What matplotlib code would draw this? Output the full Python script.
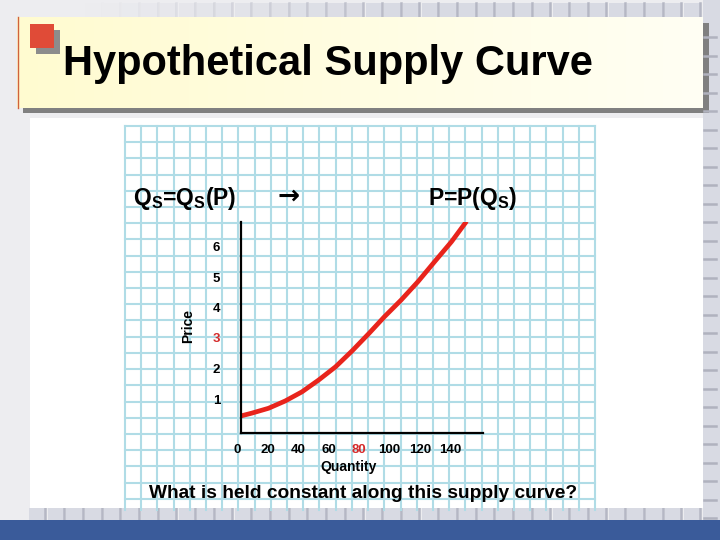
import matplotlib
matplotlib.use("Agg")
import matplotlib.pyplot as plt
from matplotlib.patches import Rectangle
from matplotlib.transforms import ScaledTranslation
import numpy as np

plt.rcParams['font.family'] = ['Liberation Sans', 'DejaVu Sans']
plt.rcParams['mathtext.default'] = 'regular'

# supply curve
quantity = [0, 7, 18, 29, 40, 51, 62, 73, 84, 94, 105, 116, 127, 138, 147]
price = [0.56, 0.65, 0.81, 1.05, 1.35, 1.74, 2.17, 2.70, 3.27, 3.81,
         4.36, 4.96, 5.62, 6.27, 6.88]

x_ticks = [0, 20, 40, 60, 80, 100, 120, 140]
y_ticks = [1, 2, 3, 4, 5, 6]
highlight_x = 80
highlight_y = 3

title = "Hypothetical Supply Curve"
question = "What is held constant along this supply curve?"

fig = plt.figure(figsize=(7.2, 5.4), dpi=100)
fig.patch.set_facecolor('#EDEDF0')

# slide background drawn in pixel coordinates
bg = fig.add_axes([0, 0, 1, 1])
bg.set_xlim(0, 720)
bg.set_ylim(540, 0)
bg.axis('off')

# checkered strip along the top, fading out to the left
xs = np.arange(700, 80, -18.7)
for x in xs:
    a = min(1.0, max(0.0, (x - 90) / 320))
    bg.add_patch(Rectangle((x - 16.5, 3), 16.5, 14, color='#D8DAE3', alpha=a, lw=0))
    bg.plot([x, x], [3, 17], color='#B5B7C4', lw=1.8, alpha=a)
# strip on the right
bg.add_patch(Rectangle((703, 0), 17, 520, color='#D8DAE3', lw=0))
for y in np.arange(37, 520, 18.5):
    bg.plot([704, 716], [y, y], color='#B0B2BE', lw=1.8)
# strip under the panel
for x in np.arange(700, 30, -18.7):
    bg.add_patch(Rectangle((x - 16.5, 508), 16.5, 12, color='#D8DAE3', lw=0))
    bg.plot([x, x], [508, 520], color='#B5B7C4', lw=1.8)

# title box
bg.add_patch(Rectangle((23, 23), 686, 90, color='#808080', lw=0))
grad = np.linspace(0, 1, 256).reshape(1, -1)
cmap = matplotlib.colors.LinearSegmentedColormap.from_list('t', ['#FFFBD0', '#FFFFF4'])
bg.imshow(grad, extent=[17, 703, 108, 17], cmap=cmap, aspect='auto', zorder=2)
bg.plot([17.5, 17.5], [17, 108], color='#D06040', lw=1, zorder=3)
bg.add_patch(Rectangle((36, 30), 24, 24, color='#8C8C8C', lw=0, zorder=3))
bg.add_patch(Rectangle((30, 24), 24, 24, color='#E04B37', lw=0, zorder=4))
bg.text(63, 75, title, fontsize=30, fontweight='bold', ha='left', va='baseline', zorder=5)
bg.set_xlim(0, 720)
bg.set_ylim(540, 0)

# white panel with graph paper
bg.add_patch(Rectangle((30, 118), 673, 390, color='white', lw=0, zorder=2))
step = 470 / 29
for k in range(30):
    x = 125 + k * step
    bg.plot([x, x], [126, 510], color='#B0DCE6', lw=1.5, zorder=3)
for k in range(24):
    y = 126 + k * step
    if y <= 510:
        bg.plot([125, 595], [y, y], color='#B0DCE6', lw=1.5, zorder=3)

# blue bar at the bottom
bg.add_patch(Rectangle((0, 520), 720, 20, color='#3A5B9A', lw=0, zorder=2))

# headings on the panel
bg.text(133, 205, r'Q$_S$=Q$_S$(P)', fontsize=16.5, fontweight='bold',
        ha='left', va='baseline', zorder=5)
bg.text(289, 197, '\u2192', fontsize=19, fontweight='bold',
        family='DejaVu Sans', ha='center', va='center', zorder=5)
bg.text(428, 205, r'P=P(Q$_S$)', fontsize=16.5, fontweight='bold',
        ha='left', va='baseline', zorder=5)
bg.text(188, 326, 'Price', fontsize=10, fontweight='bold', rotation=90,
        ha='center', va='center', zorder=5)
bg.text(349, 467, 'Quantity', fontsize=10, fontweight='bold',
        ha='center', va='center', zorder=5)
bg.text(363, 493, question, fontsize=13.8, fontweight='bold',
        ha='center', va='center', zorder=5)

# the chart itself
ax = fig.add_axes([241 / 720, 107 / 540, 242 / 720, 211 / 540])
ax.patch.set_alpha(0)
ax.set_xlim(0, 242 / 30.5 * 20)
ax.set_ylim(0, 211 / 30.5)
ax.plot(quantity, price, color='#E8241C', lw=3.4)
for s in ['top', 'right']:
    ax.spines[s].set_visible(False)
for s in ['left', 'bottom']:
    ax.spines[s].set_linewidth(1.6)
    ax.spines[s].set_color('black')
ax.set_xticks(x_ticks)
ax.set_yticks(y_ticks)
ax.tick_params(length=0, labelsize=9.5)
ax.tick_params(axis='x', pad=8)
ax.tick_params(axis='y', pad=15)
for lab, v in zip(ax.get_xticklabels(), x_ticks):
    lab.set_fontweight('bold')
    lab.set_transform(lab.get_transform() + ScaledTranslation(-4 / 100, 0, fig.dpi_scale_trans))
    if v == highlight_x:
        lab.set_color('#D42A2A')
for lab, v in zip(ax.get_yticklabels(), y_ticks):
    lab.set_fontweight('bold')
    lab.set_transform(lab.get_transform() + ScaledTranslation(0, 3.5 / 100, fig.dpi_scale_trans))
    if v == highlight_y:
        lab.set_color('#D42A2A')

fig.savefig('out.png', dpi=100, facecolor=fig.get_facecolor())
